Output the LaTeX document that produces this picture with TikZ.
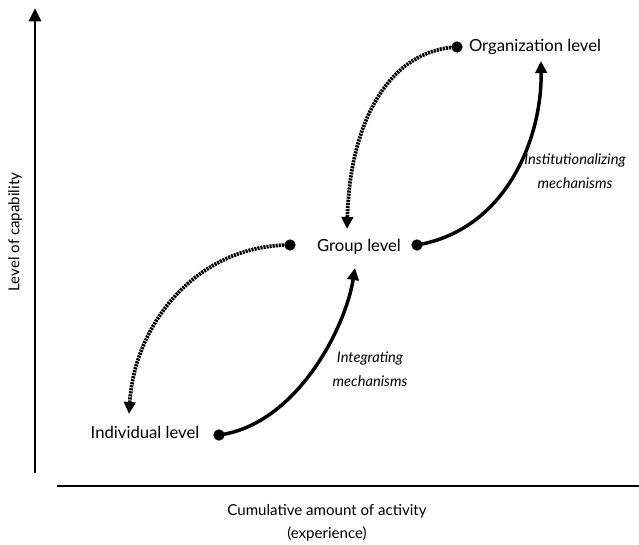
\documentclass[tikz,border=0pt]{standalone}
\usepackage{fontspec}
\setmainfont{Lato}
\usetikzlibrary{arrows.meta}

\tikzset{every picture/.style={line width=0.75pt}}
\tikzset{
  lvl/.style={anchor=center,inner sep=0.75pt,font=\fontsize{12.5}{14}\selectfont},
  axlab/.style={anchor=center,inner sep=0.75pt,align=center,font=\fontsize{11.3}{17}\selectfont},
  mech/.style={anchor=center,inner sep=0.75pt,align=center,font=\fontsize{11}{18}\selectfont\itshape},
  axis/.style={line width=2.2pt},
  solidlink/.style={line width=2.6pt,-{Triangle[length=9pt,width=8.5pt]}},
  dotlink/.style={line width=2.8pt,dash pattern={on 1.6pt off 0.7pt},-{Triangle[length=9pt,width=8.5pt]}},
  enddot/.style={circle,fill=black,inner sep=0pt,minimum size=8.5pt}
}

\begin{document}
\begin{tikzpicture}[x=0.75pt,y=0.75pt,yscale=-1,xscale=1]
\useasboundingbox (0,0) rectangle (639,545);

%Axes
\coordinate (ybot) at (35,473);
\coordinate (ytop) at (35,8);
\coordinate (xleft) at (57,486);
\coordinate (xright) at (639,486);
\draw [axis,-{Triangle[length=10pt,width=9pt]}] (ybot) -- (ytop) ;
\draw [axis] (xleft) -- (xright) ;

% Text Node
\node [axlab,rotate=90] (ylab) at (15,232) {Level of capability};
% Text Node
\node [axlab] (xlab) at (327,523) {Cumulative amount of activity\\(experience)};

% Text Node
\node [lvl] (indiv) at (145,432) {Individual level};
% Text Node
\node [lvl] (group) at (359,247) {Group level};
% Text Node
\node [lvl] (org) at (535,47) {Organization level};
% Text Node
\node [mech] (integ) at (370,369) {Integrating\\mechanisms};
% Text Node
\node [mech] (instit) at (575,171) {Institutionalizing\\mechanisms};

%Dots and arrow ends
\node [enddot] (indivdot) at (219,435) {};
\node [enddot] (groupldot) at (290,245) {};
\node [enddot] (grouprdot) at (417,245) {};
\node [enddot] (orgdot) at (457,47) {};
\coordinate (groupin) at (355,268);
\coordinate (groupdown) at (347,229);
\coordinate (indivin) at (129,414);
\coordinate (orgin) at (541,61);

%Curve Lines
\draw [solidlink] (indivdot.center) .. controls (295,425) and (345,330) .. (groupin) ;
\draw [solidlink] (grouprdot.center) .. controls (505,230) and (542,140) .. (orgin) ;
%Dotted Curve Lines
\draw [dotlink] (groupldot.center) .. controls (200,245) and (135,320) .. (indivin) ;
\draw [dotlink] (orgdot.center) .. controls (390,50) and (350,120) .. (groupdown) ;

\end{tikzpicture}
\end{document}
